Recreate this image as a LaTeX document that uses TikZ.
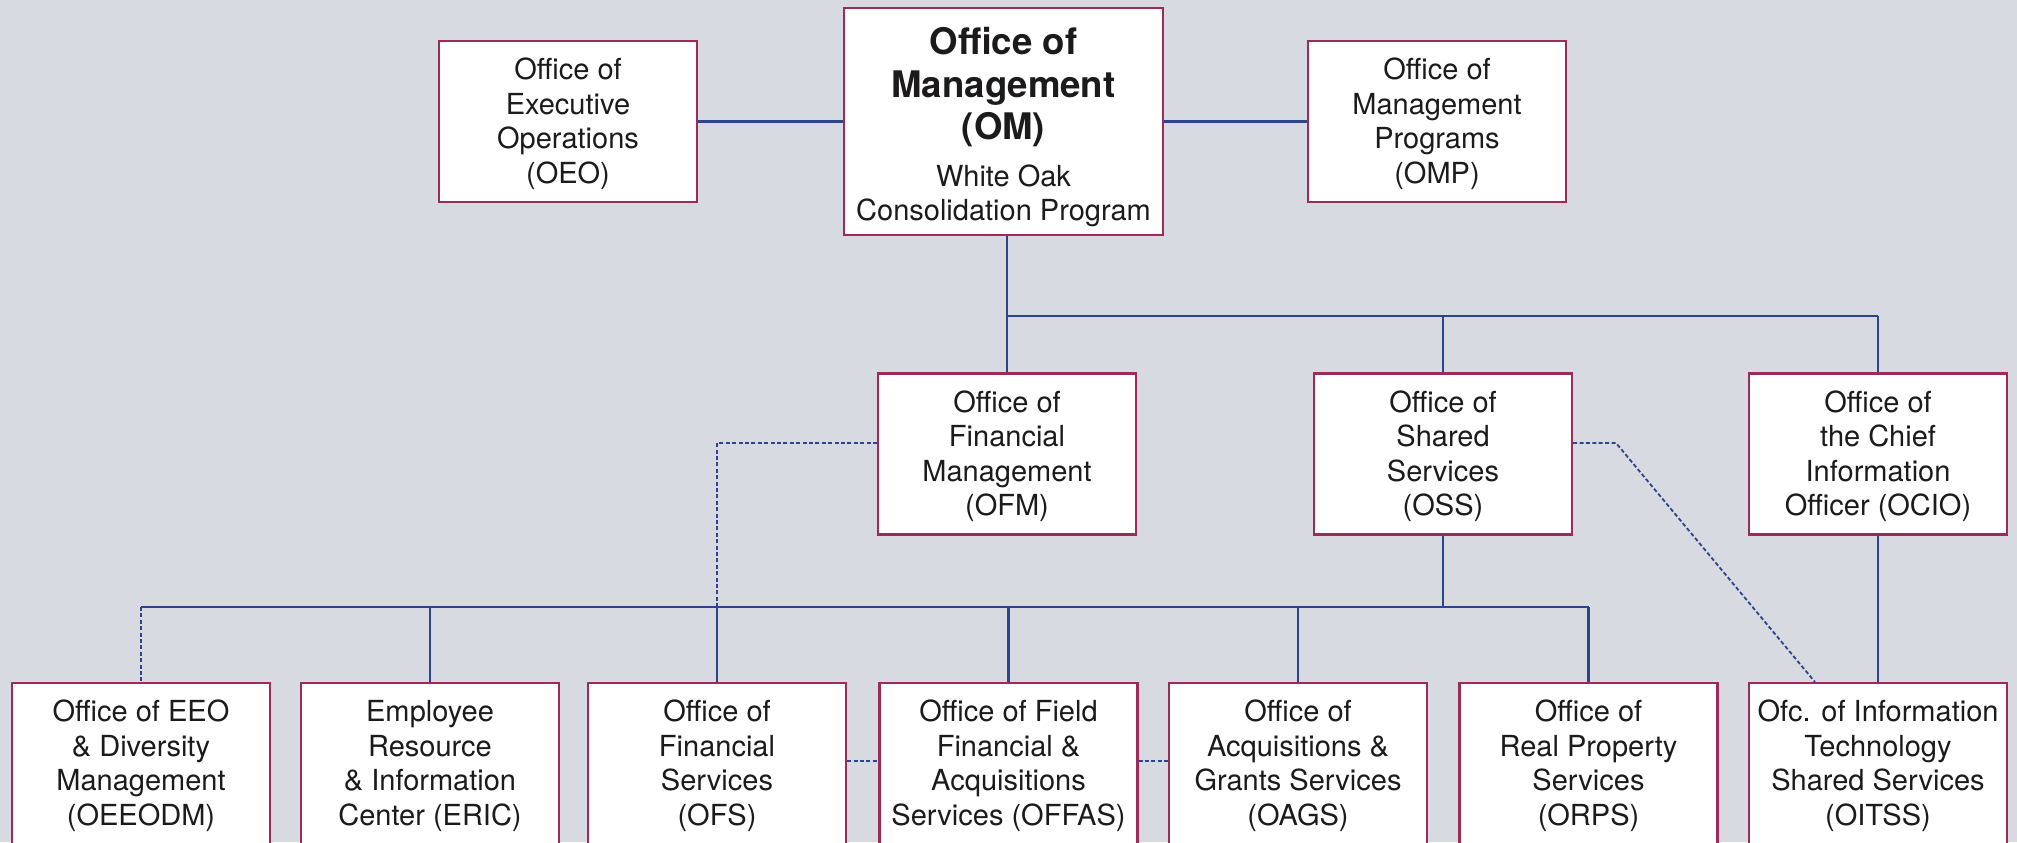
\documentclass[tikz,border=0pt]{standalone}
\usepackage{fontspec}
\setmainfont{TeX Gyre Heros}
\definecolor{bgc}{RGB}{215,218,224}
\definecolor{boxc}{RGB}{158,42,88}
\definecolor{lnc}{RGB}{42,68,142}
\definecolor{txtc}{RGB}{28,26,27}
\newcommand\mytop{\rule{0pt}{13.5pt}}
\newcommand\mybot{\rule[-3.5pt]{0pt}{3.5pt}}
\newcommand\omt{\fontsize{18.3pt}{21.3pt}\selectfont\bfseries}
\newcommand\boxfont{\fontsize{14.5pt}{17.3pt}\selectfont}
\begin{document}
\lineskiplimit=-100pt
\begin{tikzpicture}[x=0.5pt,y=-0.5pt,
  box/.style={draw=boxc, line width=1.1pt, fill=white, minimum width=129pt,
    minimum height=80.5pt, inner sep=0pt, align=center, text=txtc,
    font=\boxfont},
  conn/.style={draw=lnc, line width=1.2pt},
  dconn/.style={draw=lnc, line width=0.9pt, dash pattern=on 2pt off 1.2pt}]
\useasboundingbox (0,0) rectangle (2017,842);
\fill[bgc] (0,0) rectangle (2017,842);
% coordinates for buses
\coordinate (b1) at (0,316);
\coordinate (b2) at (0,607);
\coordinate (d1) at (0,443);
\coordinate (d3) at (0,761);
% solid connectors drawn first (behind boxes)
% top row
\node[box] (OEO) at (568,121.5) {\mytop Office of\\Executive\\Operations\\(OEO)\mybot};
\node[box, minimum width=159.5pt, minimum height=113.5pt] (OM) at (1003.5,121.5)
  {\omt\rule{0pt}{19pt}Office of\\[4pt]\omt Management\\[4pt]\omt (OM)\\[6.25pt]White Oak\\[-0.7pt]Consolidation Program};
\node[box] (OMP) at (1437,121.5) {\mytop Office of\\Management\\Programs\\(OMP)\mybot};
% middle row
\node[box] (OFM) at (1007,454) {\mytop Office of\\Financial\\Management\\(OFM)\mybot};
\node[box] (OSS) at (1443,454) {\mytop Office of\\Shared\\Services\\(OSS)\mybot};
\node[box] (OCIO) at (1878,454) {\mytop Office of\\the Chief\\Information\\Officer (OCIO)\mybot};
% bottom row
\node[box] (OEEODM) at (141,763.5) {\mytop Office of EEO\\\& Diversity\\Management\\(OEEODM)\mybot};
\node[box] (ERIC) at (430,763.5) {\mytop Employee\\Resource\\\& Information\\Center (ERIC)\mybot};
\node[box] (OFS) at (717,763.5) {\mytop Office of\\Financial\\Services\\(OFS)\mybot};
\node[box] (OFFAS) at (1008.5,763.5) {\mytop Office of Field\\Financial \&\\Acquisitions\\Services (OFFAS)\mybot};
\node[box] (OAGS) at (1298,763.5) {\mytop Office of\\Acquisitions \&\\Grants Services\\(OAGS)\mybot};
\node[box] (ORPS) at (1588.5,763.5) {\mytop Office of\\Real Property\\Services\\(ORPS)\mybot};
\node[box] (OITSS) at (1878,763.5) {\mytop Ofc. of Information\\Technology\\Shared Services\\(OITSS)\mybot};
% solid connectors
\draw[conn] (OEO.east) -- (OM.west);
\draw[conn] (OM.east) -- (OMP.west);
\draw[conn] (OM.south -| OFM.north) -- (OFM.north);
\draw[conn] (OFM.north |- b1) -- (OCIO.north |- b1);
\draw[conn] (OSS.north |- b1) -- (OSS.north);
\draw[conn] (OCIO.north |- b1) -- (OCIO.north);
\draw[conn] (OSS.south) -- (OSS.south |- b2);
\draw[conn] (OEEODM.north |- b2) -- (ORPS.north |- b2);
\draw[conn] (ERIC.north |- b2) -- (ERIC.north);
\draw[conn] (OFS.north |- b2) -- (OFS.north);
\draw[conn] (OFFAS.north |- b2) -- (OFFAS.north);
\draw[conn] (OAGS.north |- b2) -- (OAGS.north);
\draw[conn] (ORPS.north |- b2) -- (ORPS.north);
\draw[conn] (OCIO.south) -- (OITSS.north);
% dashed connectors
\coordinate (k1) at (1616,443);
\coordinate (k2) at ([xshift=33.5pt]OITSS.north west);
\draw[dconn] (OEEODM.north |- b2) -- (OEEODM.north);
\draw[dconn] (OFM.west |- d1) -| (OFS.north |- b2);
\draw[dconn] (OSS.east |- d1) -- (k1) -- (k2);
\draw[dconn] (OFS.east |- d3) -- (OFFAS.west |- d3);
\draw[dconn] (OFFAS.east |- d3) -- (OAGS.west |- d3);
\end{tikzpicture}
\end{document}
